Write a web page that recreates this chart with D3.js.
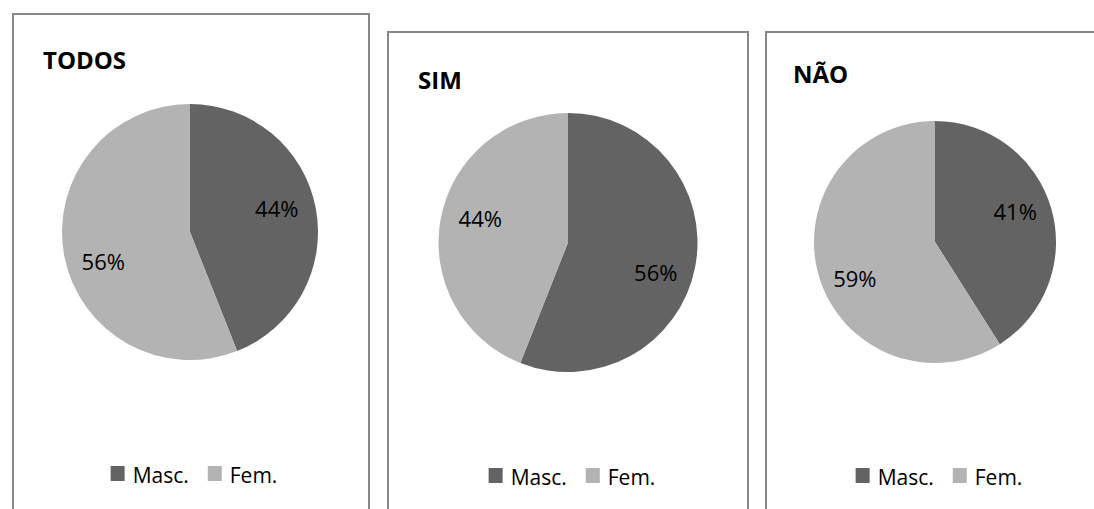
<!DOCTYPE html>
<html>
<head>
<meta charset="utf-8">
<script src="https://cdn.jsdelivr.net/npm/d3@7"></script>
<style>
  html, body { margin: 0; padding: 0; background: #ffffff; }
  svg { display: block; }
  text { font-family: "Open Sans", "Noto Sans", sans-serif; fill: #000; }
</style>
</head>
<body>
<svg id="chart" width="1094" height="509"></svg>
<script>
// Groups shown, one pie each
const groups = ["TODOS", "SIM", "NÃO"];
// Legend / slice categories
const categories = ["Masc.", "Fem."];
// Percentages per group
const mascValues = [44, 56, 41];
const femValues = [56, 44, 59];

const colors = d3.scaleOrdinal().domain(categories).range(["#636363", "#b3b3b3"]);

// Frame and pie placement of each panel
const layout = [
  { left: 13,  top: 14, right: 369,  cx: 190, cy: 232,   r: 128,   titleX: 30, titleY: 55, legendY: 481 },
  { left: 388, top: 32, right: 748,  cx: 568, cy: 242.5, r: 129.5, titleX: 30, titleY: 57, legendY: 483 },
  { left: 766, top: 32, right: 1110, cx: 935, cy: 242,   r: 121,   titleX: 27, titleY: 51, legendY: 483 }
];

const svg = d3.select("#chart");
const pie = d3.pie().sort(null).value(d => d.value);

groups.forEach((name, i) => {
  const L = layout[i];
  const data = categories.map((c, j) => ({ category: c, value: j === 0 ? mascValues[i] : femValues[i] }));

  const g = svg.append("g");

  // panel frame (open at the bottom, runs past the page edge)
  g.append("path")
    .attr("d", `M${L.left},520 V${L.top} H${L.right} V520`)
    .attr("fill", "none")
    .attr("stroke", "#888888")
    .attr("stroke-width", 2);

  // title
  g.append("text")
    .attr("x", L.left + L.titleX)
    .attr("y", L.top + L.titleY)
    .attr("font-size", 24)
    .attr("font-weight", 700)
    .text(name);

  // pie
  const arc = d3.arc().innerRadius(0).outerRadius(L.r);
  const labelArc = d3.arc().innerRadius(L.r * 0.69).outerRadius(L.r * 0.69);
  const pg = g.append("g").attr("transform", `translate(${L.cx},${L.cy})`);
  const arcs = pie(data);

  pg.selectAll("path.slice")
    .data(arcs)
    .join("path")
    .attr("class", "slice")
    .attr("d", arc)
    .attr("fill", d => colors(d.data.category));

  pg.selectAll("text.pct")
    .data(arcs)
    .join("text")
    .attr("class", "pct")
    .attr("text-anchor", "middle")
    .attr("font-size", 22)
    .attr("x", d => labelArc.centroid(d)[0])
    .attr("y", d => {
      const y = labelArc.centroid(d)[1];
      return y + (y > 0 ? 14 : -6) + 7.5;
    })
    .text(d => d.data.value + "%");

  // legend
  const lg = g.append("g");
  let x = 0;
  categories.forEach((c, j) => {
    const item = lg.append("g").attr("transform", `translate(${x},0)`);
    item.append("rect")
      .attr("x", 0).attr("y", -15)
      .attr("width", 14).attr("height", 15)
      .attr("fill", colors(c));
    const t = item.append("text")
      .attr("x", 22).attr("y", 2)
      .attr("font-size", 21)
      .text(c);
    x += 22 + t.node().getComputedTextLength() + 19;
  });
  const total = x - 19;
  lg.attr("transform", `translate(${L.cx + 4 - total / 2},${L.legendY})`);
});
</script>
</body>
</html>
